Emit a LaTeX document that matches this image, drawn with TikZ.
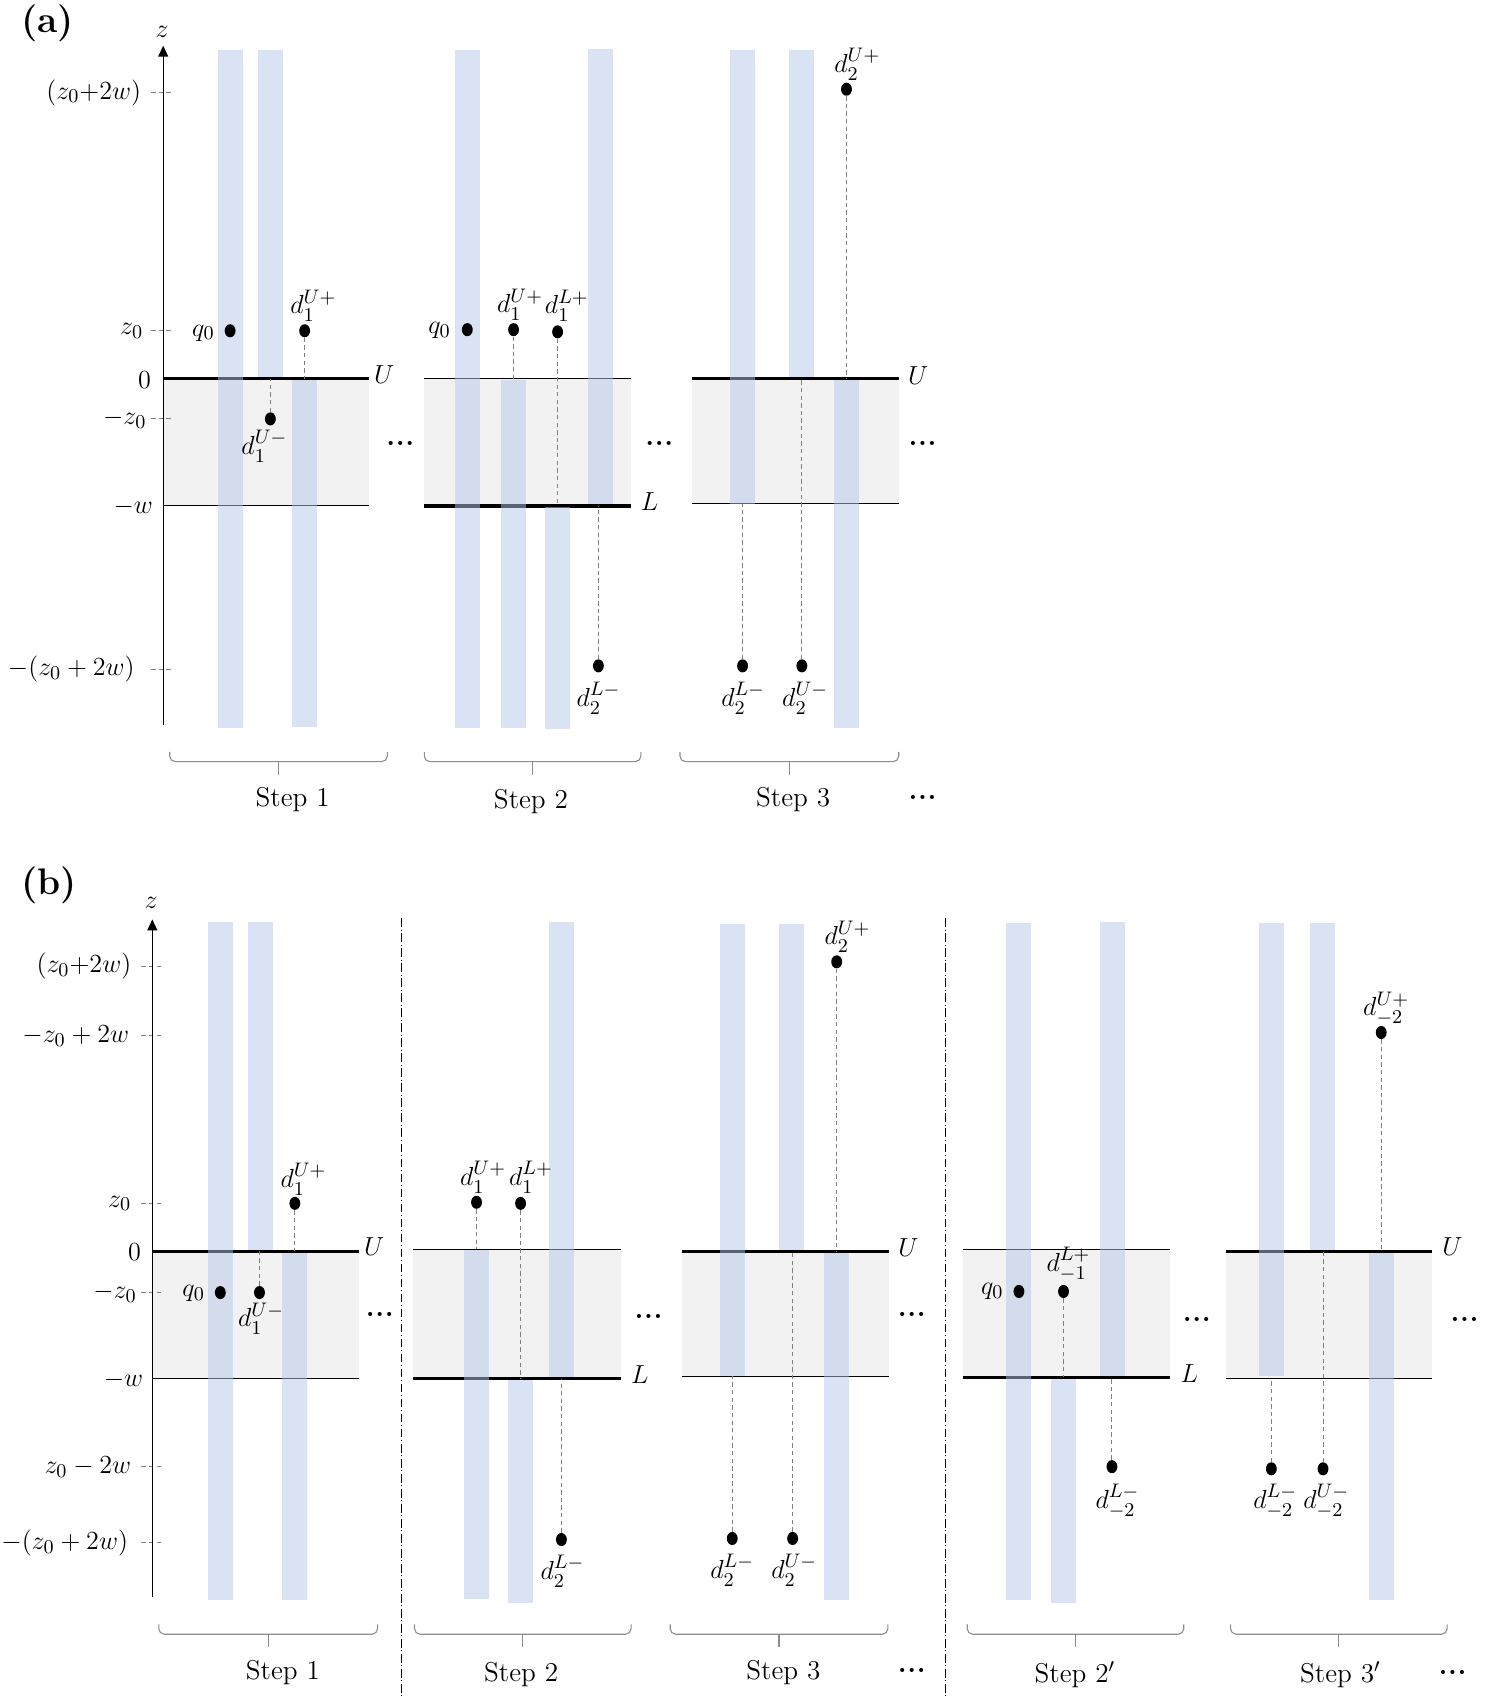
\documentclass[tikz,border=0pt]{standalone}
\usepackage{amsmath}
\usetikzlibrary{arrows.meta,shapes.geometric}
\definecolor{barblue}{RGB}{181,199,231}
\definecolor{bandgray}{RGB}{242,242,242}
\newcommand\vbar[3]{\fill[bar] (#1-11.5,#2) rectangle (#1+11.5,#3);}
\newcommand\mybrace[4]{% x1 x2 y name
  \draw[brc,rounded corners=2.5pt] (#1,#3-9) -- (#1,#3) -- (#2,#3) -- (#2,#3-9);
  \coordinate (#4top) at ({(#1+#2)/2},#3);
  \coordinate (#4bot) at ({(#1+#2)/2},#3+12);
  \draw[brc] (#4top) -- (#4bot);}
\newcommand\mydots{{\fontsize{13}{15}\selectfont\bfseries .\kern0.3pt.\kern0.3pt.}}
\begin{document}
\fontsize{12.5}{15}\selectfont
\begin{tikzpicture}[x=0.5pt,y=-0.5pt,
  bar/.style={fill=barblue,fill opacity=0.5},
  band/.style={fill=bandgray},
  thickln/.style={line width=1.5pt},
  thinln/.style={line width=0.5pt},
  conn/.style={draw=black!50,line width=0.45pt,dash pattern=on 2pt off 1.5pt},
  tickln/.style={draw=black!50,line width=0.45pt,dash pattern=on 2pt off 1.5pt},
  charge/.style={ellipse,fill=black,inner sep=0pt,minimum width=5pt,minimum height=6pt},
  lbl/.style={inner sep=0.5pt},
  axislbl/.style={inner sep=0pt,anchor=east},
  brc/.style={draw=black!45,line width=0.5pt},
  sep/.style={line width=0.5pt,dash pattern=on 4pt off 1.2pt on 0.5pt off 1.2pt},
  axisln/.style={line width=0.6pt,-{Triangle[length=5pt,width=4.5pt]}}]
\useasboundingbox (0,0) rectangle (1364,1568);

% ======================= PANEL (a) =======================
\node[font=\fontsize{17}{19}\selectfont\bfseries] (pa) at (44,21) {(a)};
\coordinate (za0) at (0,348);
\coordinate (zaw) at (0,465);
\coordinate (zaw3) at (0,463);

% bands and lines
\fill[band] (150,348) rectangle (339,465);
\draw[thickln] (150,348) -- (339,348);
\draw[thinln] (150,465) -- (339,465);
\fill[band] (390,348) rectangle (580,465);
\draw[thinln] (390,348) -- (580,348);
\draw[thickln] (390,465) -- (580,465);
\fill[band] (636,348) rectangle (826,463);
\draw[thickln] (636,348) -- (826,348);
\draw[thinln] (636,463) -- (826,463);

% ticks
\draw[tickln] (139,85) -- (159,85);
\draw[tickln] (139,304) -- (159,304);
\draw[tickln] (139,385) -- (159,385);
\draw[tickln] (139,615) -- (159,615);

% bars
\vbar{211.5}{46}{669}
\vbar{248.5}{46}{346.6}
\vbar{280}{349.4}{668}
\vbar{429.5}{46}{669}
\vbar{472}{349.4}{669}
\vbar{512.5}{466.4}{670}
\vbar{551.5}{45}{463.6}
\vbar{682.5}{46}{463}
\vbar{736.5}{46}{346.6}
\vbar{778}{349.4}{669}

% dots
\node[charge] (a1q) at (211.5,304) {};
\node[charge] (a1up) at (280,304) {};
\node[charge] (a1um) at (248.5,385) {};
\node[charge] (a2q) at (429.5,303) {};
\node[charge] (a2up) at (472,303) {};
\node[charge] (a2lp) at (512.5,305) {};
\node[charge] (a2lm) at (550,612) {};
\node[charge] (a3up) at (778,82) {};
\node[charge] (a3lm) at (682.5,612) {};
\node[charge] (a3um) at (737,612) {};

% connectors
\draw[conn] (a1up) -- (a1up |- za0);
\draw[conn] (a1um) -- (a1um |- za0);
\draw[conn] (a2up) -- (a2up |- za0);
\draw[conn] (a2lp) -- (a2lp |- zaw);
\draw[conn] (a2lm) -- (a2lm |- zaw);
\draw[conn] (a3up) -- (a3up |- za0);
\draw[conn] (a3lm) -- (a3lm |- zaw3);
\draw[conn] (a3um) -- (a3um |- za0);

% axis
\coordinate (axa0) at (150,666);
\coordinate (axa1) at (150,42);
\draw[axisln] (axa0) -- (axa1);
\node (za) at (149,29) {$z$};

% axis labels
\node[axislbl] (la1) at (130,85) {$(z_0{+}2w)$};
\node[axislbl] (la2) at (132,304) {$z_0$};
\node[axislbl] (la3) at (139,349) {$0$};
\node[axislbl] (la4) at (135,385) {$-z_0$};
\node[axislbl] (la5) at (141,466) {$-w$};
\node[axislbl] (la6) at (124,615) {$-(z_0+2w)$};

% dot labels
\node[lbl] (ta1q) at (187,306) {$q_0$};
\node[lbl] (ta1up) at (288,281) {$d_1^{U+}$};
\node[lbl] (ta1um) at (243,410) {$d_1^{U-}$};
\node[lbl] (ta2q) at (404,304) {$q_0$};
\node[lbl] (ta2up) at (478,280) {$d_1^{U+}$};
\node[lbl] (ta2lp) at (521,281) {$d_1^{L+}$};
\node[lbl] (ta2lm) at (550,642) {$d_2^{L-}$};
\node[lbl] (ta3up) at (788,59) {$d_2^{U+}$};
\node[lbl] (ta3lm) at (683,642) {$d_2^{L-}$};
\node[lbl] (ta3um) at (740,642) {$d_2^{U-}$};

\node[lbl] (tau1) at (353,344) {$U$};
\node[lbl] (tal2) at (597,461) {$L$};
\node[lbl] (tau3) at (844,345) {$U$};
\node[lbl] (tad1) at (368,408) {\mydots};
\node[lbl] (tad2) at (606,408) {\mydots};
\node[lbl] (tad3) at (848,408) {\mydots};

% braces and steps
\mybrace{156}{356}{700}{ba1}
\mybrace{390}{589}{700}{ba2}
\mybrace{625}{826}{700}{ba3}
\node (sa1) at (269,735) {Step 1};
\node (sa2) at (488,737) {Step 2};
\node (sa3) at (729,735) {Step 3};
\node (sad) at (848,733) {\mydots};

% ======================= PANEL (b) =======================
\node[font=\fontsize{17}{19}\selectfont\bfseries] (pb) at (45,814) {(b)};
\coordinate (zb0) at (0,1150);
\coordinate (zb0b) at (0,1148);
\coordinate (zbw) at (0,1267);
\coordinate (zbw3) at (0,1265);
\coordinate (zbw4) at (0,1266);

\fill[band] (140,1150) rectangle (330,1267);
\draw[thickln] (140,1150) -- (330,1150);
\draw[thinln] (140,1267) -- (330,1267);
\fill[band] (380,1148) rectangle (571,1267);
\draw[thinln] (380,1148) -- (571,1148);
\draw[thickln] (380,1267) -- (571,1267);
\fill[band] (627,1150) rectangle (817,1265);
\draw[thickln] (627,1150) -- (817,1150);
\draw[thinln] (627,1265) -- (817,1265);
\fill[band] (885,1148) rectangle (1075,1266);
\draw[thinln] (885,1148) -- (1075,1148);
\draw[thickln] (885,1266) -- (1075,1266);
\fill[band] (1127,1150) rectangle (1316,1267);
\draw[thickln] (1127,1150) -- (1316,1150);
\draw[thinln] (1127,1267) -- (1316,1267);

% separators
\coordinate (s1t) at (369,844);
\coordinate (s1b) at (369,1560);
\coordinate (s2t) at (869,844);
\coordinate (s2b) at (869,1560);
\draw[sep] (s1t) -- (s1b);
\draw[sep] (s2t) -- (s2b);

% ticks
\draw[tickln] (130,888) -- (150,888);
\draw[tickln] (130,952) -- (150,952);
\draw[tickln] (130,1106) -- (150,1106);
\draw[tickln] (130,1188) -- (150,1188);
\draw[tickln] (130,1348) -- (150,1348);
\draw[tickln] (130,1418) -- (150,1418);

% bars
\vbar{202.5}{847}{1471}
\vbar{239.5}{847}{1148.6}
\vbar{270.5}{1151.4}{1471}
\vbar{438}{1149}{1470}
\vbar{478.5}{1268.4}{1473}
\vbar{516.5}{847}{1265.6}
\vbar{673.5}{849}{1265}
\vbar{727.5}{849}{1148.6}
\vbar{768.5}{1151.4}{1471}
\vbar{936.5}{848}{1471}
\vbar{977.5}{1267.4}{1473}
\vbar{1022.5}{847}{1264.6}
\vbar{1168.5}{848}{1265}
\vbar{1215.5}{848}{1148.6}
\vbar{1269.5}{1151.4}{1471}

% dots
\node[charge] (b1up) at (271,1106) {};
\node[charge] (b1q) at (202.5,1188) {};
\node[charge] (b1um) at (238.5,1188) {};
\node[charge] (b2up) at (438,1105) {};
\node[charge] (b2lp) at (478.5,1106) {};
\node[charge] (b2lm) at (516,1415) {};
\node[charge] (b3up) at (769,884) {};
\node[charge] (b3lm) at (673,1414) {};
\node[charge] (b3um) at (728.5,1414) {};
\node[charge] (c2q) at (936.5,1187) {};
\node[charge] (c2lp) at (977.5,1187) {};
\node[charge] (c2lm) at (1022,1348) {};
\node[charge] (c3up) at (1269.5,949) {};
\node[charge] (c3lm) at (1168.5,1350) {};
\node[charge] (c3um) at (1216,1350) {};

% connectors
\draw[conn] (b1up) -- (b1up |- zb0);
\draw[conn] (b1um) -- (b1um |- zb0);
\draw[conn] (b2up) -- (b2up |- zb0b);
\draw[conn] (b2lp) -- (b2lp |- zbw);
\draw[conn] (b2lm) -- (b2lm |- zbw);
\draw[conn] (b3up) -- (b3up |- zb0);
\draw[conn] (b3lm) -- (b3lm |- zbw3);
\draw[conn] (b3um) -- (b3um |- zb0);
\draw[conn] (c2lp) -- (c2lp |- zbw4);
\draw[conn] (c2lm) -- (c2lm |- zbw4);
\draw[conn] (c3up) -- (c3up |- zb0);
\draw[conn] (c3lm) -- (c3lm |- zbw);
\draw[conn] (c3um) -- (c3um |- zb0);

% axis
\coordinate (axb0) at (140,1468);
\coordinate (axb1) at (140,845);
\draw[axisln] (axb0) -- (axb1);
\node (zb) at (139,830) {$z$};

% axis labels
\node[axislbl] (lb1) at (121,888) {$(z_0{+}2w)$};
\node[axislbl] (lb2) at (119,952) {$-z_0+2w$};
\node[axislbl] (lb3) at (121,1106) {$z_0$};
\node[axislbl] (lb4) at (130,1151) {$0$};
\node[axislbl] (lb5) at (126,1188) {$-z_0$};
\node[axislbl] (lb6) at (132,1268) {$-w$};
\node[axislbl] (lb7) at (121,1348) {$z_0-2w$};
\node[axislbl] (lb8) at (118,1418) {$-(z_0+2w)$};

% dot labels
\node[lbl] (tb1up) at (279,1084) {$d_1^{U+}$};
\node[lbl] (tb1q) at (178,1189) {$q_0$};
\node[lbl] (tb1um) at (240,1212) {$d_1^{U-}$};
\node[lbl] (tb2up) at (444,1082) {$d_1^{U+}$};
\node[lbl] (tb2lp) at (488,1082) {$d_1^{L+}$};
\node[lbl] (tb2lm) at (517,1444) {$d_2^{L-}$};
\node[lbl] (tb3up) at (779,861) {$d_2^{U+}$};
\node[lbl] (tb3lm) at (673,1443) {$d_2^{L-}$};
\node[lbl] (tb3um) at (730,1443) {$d_2^{U-}$};
\node[lbl] (tc2q) at (912,1187) {$q_0$};
\node[lbl] (tc2lp) at (982,1162) {$d_{-1}^{L+}$};
\node[lbl] (tc2lm) at (1027,1380) {$d_{-2}^{L-}$};
\node[lbl] (tc3up) at (1274,927) {$d_{-2}^{U+}$};
\node[lbl] (tc3lm) at (1172,1380) {$d_{-2}^{L-}$};
\node[lbl] (tc3um) at (1219,1380) {$d_{-2}^{U-}$};

\node[lbl] (tbu1) at (344,1146) {$U$};
\node[lbl] (tbl2) at (588,1263) {$L$};
\node[lbl] (tbu3) at (835,1147) {$U$};
\node[lbl] (tcl2) at (1093,1262) {$L$};
\node[lbl] (tcu3) at (1335,1146) {$U$};
\node[lbl] (tbd1) at (349,1208) {\mydots};
\node[lbl] (tbd2) at (596,1210) {\mydots};
\node[lbl] (tbd3) at (838,1208) {\mydots};
\node[lbl] (tcd2) at (1100,1213) {\mydots};
\node[lbl] (tcd3) at (1346,1213) {\mydots};

% braces and steps
\mybrace{146}{347}{1502}{bb1}
\mybrace{381}{580}{1502}{bb2}
\mybrace{616}{816}{1502}{bb3}
\mybrace{889}{1088}{1502}{bb4}
\mybrace{1131}{1330}{1502}{bb5}
\node (sb1) at (260,1537) {Step 1};
\node (sb2) at (479,1539) {Step 2};
\node (sb3) at (720,1537) {Step 3};
\node (sbd) at (838,1535) {\mydots};
\node (sb4) at (988,1539) {Step 2$'$};
\node (sb5) at (1232,1539) {Step 3$'$};
\node (sbd2) at (1335,1537) {\mydots};
\end{tikzpicture}
\end{document}
